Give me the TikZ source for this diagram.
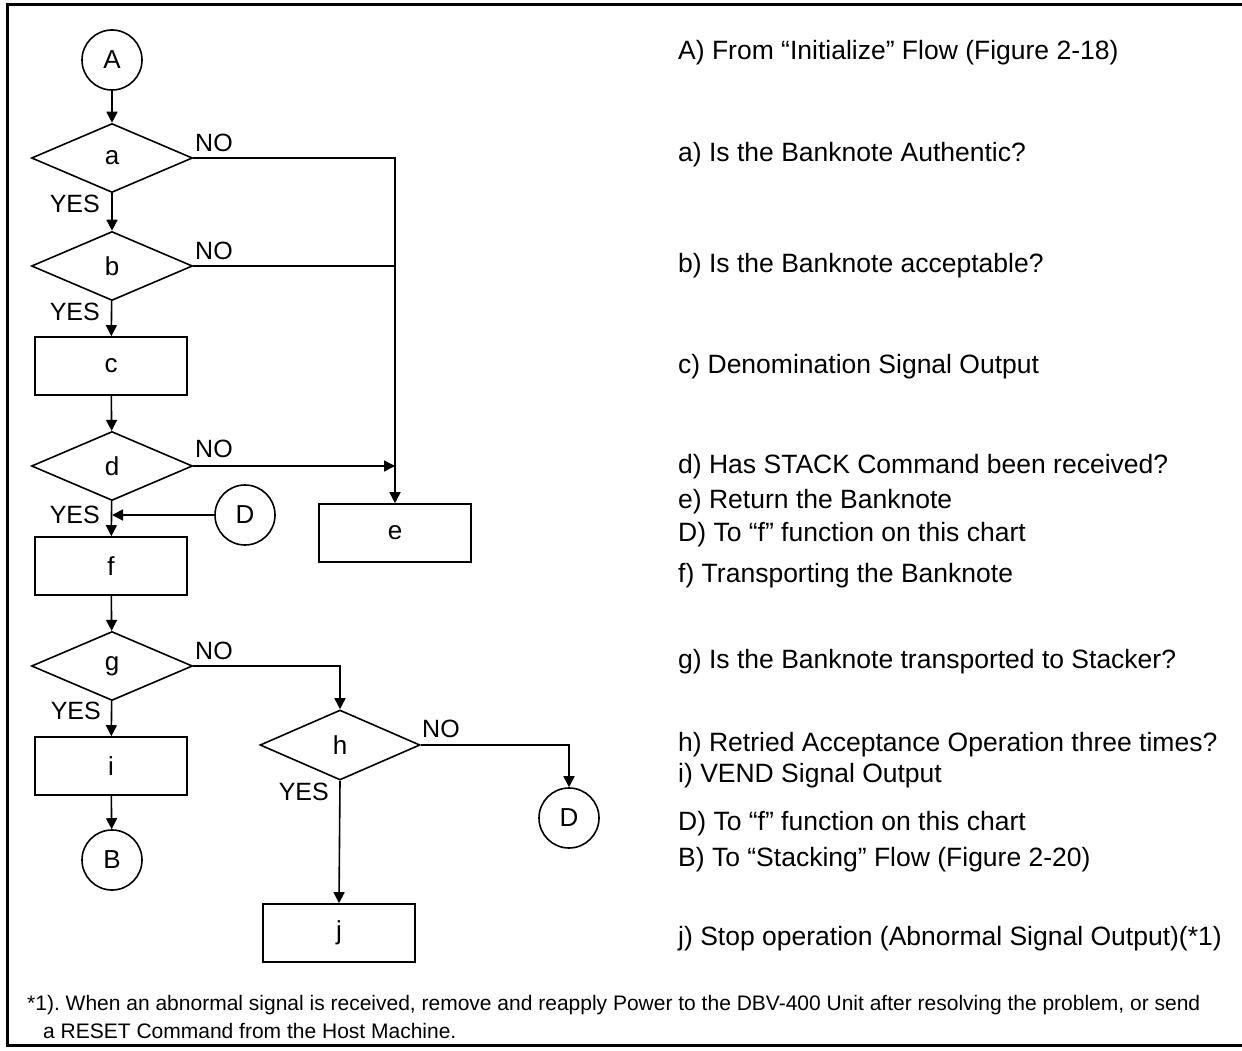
\documentclass[tikz,border=0pt]{standalone}
\usepackage{fontspec}
\setmainfont{Liberation Sans}
\usetikzlibrary{shapes.geometric,arrows.meta}
\frenchspacing
\begin{document}
\begin{tikzpicture}[x=1pt,y=-1pt,
  every node/.style={font=\fontsize{26}{30}\selectfont},
  ln/.style={line width=1.6pt},
  arr/.style={ln,-{Triangle[length=11pt,width=11pt]}},
  dec/.style={diamond,draw,line width=1.6pt,minimum width=161pt,minimum height=69pt,inner sep=0pt},
  proc/.style={rectangle,draw,line width=1.6pt,minimum width=152pt,minimum height=58pt,inner sep=0pt},
  conn/.style={circle,draw,line width=1.6pt,minimum size=60pt,inner sep=0pt},
  lbl/.style={font=\fontsize{25}{28}\selectfont,inner sep=0pt},
  desc/.style={anchor=base west,inner sep=0pt,font=\fontsize{26.5}{30}\selectfont},
  foot/.style={anchor=base west,inner sep=0pt,font=\fontsize{21}{24}\selectfont}]
\useasboundingbox (0,0) rectangle (1242,1051);
\draw[line width=3pt] (7,5) rectangle (1260,1045);

% shapes
\node[conn] (A) at (112,60) {A};
\node[dec] (a) at (112,158) {a};
\node[dec] (b) at (112,266) {b};
\node[proc] (c) at (111,366) {c};
\node[dec] (d) at (112,466) {d};
\node[proc] (e) at (395,533) {e};
\node[conn] (D1) at (245,515) {D};
\node[proc] (f) at (111,566) {f};
\node[dec] (g) at (112,666) {g};
\node[proc] (i) at (111,766) {i};
\node[conn] (B) at (112,860) {B};
\node[dec,minimum width=160pt,minimum height=70pt] (h) at (340,745) {h};
\node[conn] (D2) at (569,818) {D};
\node[proc] (j) at (339,933) {j};

% connectors
\draw[arr] (A) -- (a);
\draw[arr] (a) -- (b);
\draw[arr] (b) -- (c);
\draw[arr] (c) -- (d);
\draw[arr] (d) -- (f);
\draw[arr] (D1) -- (D1 -| d.south);
\draw[arr] (a.east) -- (a.east -| e.north) -- (e.north);
\draw[ln] (b.east) -- (b.east -| e.north);
\draw[arr] (d.east) -- (d.east -| e.north);
\draw[arr] (f) -- (g);
\draw[arr] (g) -- (i);
\draw[arr] (i) -- (B);
\draw[arr] (g.east) -- (g.east -| h.north) -- (h.north);
\draw[arr] (h.east) -- (h.east -| D2.north) -- (D2.north);
\draw[arr] (h.south) -- (j.north);

% NO / YES labels
\node[lbl,anchor=base west] (noa) at (195,152) {NO};
\node[lbl,anchor=base west] (nob) at (195,259) {NO};
\node[lbl,anchor=base west] (nod) at (195,457) {NO};
\node[lbl,anchor=base west] (nog) at (195,659) {NO};
\node[lbl,anchor=base west] (noh) at (422,737) {NO};
\node[lbl,anchor=base east] (yesa) at (100,213) {YES};
\node[lbl,anchor=base east] (yesb) at (100,320) {YES};
\node[lbl,anchor=base east] (yesd) at (100,523) {YES};
\node[lbl,anchor=base east] (yesg) at (101,719) {YES};
\node[lbl,anchor=base east] (yesh) at (329,800) {YES};

% descriptions
\node[desc] (tA) at (678,60) {A) From “Initialize” Flow (Figure 2-18)};
\node[desc] (ta) at (678,162) {a) Is the Banknote Authentic?};
\node[desc] (tb) at (678,272) {b) Is the Banknote acceptable?};
\node[desc] (tc) at (678,373) {c) Denomination Signal Output};
\node[desc] (td) at (678,473) {d) Has STACK Command been received?};
\node[desc] (te) at (678,508) {e) Return the Banknote};
\node[desc] (tD1) at (678,541) {D) To “f” function on this chart};
\node[desc] (tf) at (678,582) {f) Transporting the Banknote};
\node[desc] (tg) at (678,668) {g) Is the Banknote transported to Stacker?};
\node[desc] (th) at (678,751) {h) Retried Acceptance Operation three times?};
\node[desc] (ti) at (678,782) {i) VEND Signal Output};
\node[desc] (tD2) at (678,830) {D) To “f” function on this chart};
\node[desc] (tB) at (678,866) {B) To “Stacking” Flow (Figure 2-20)};
\node[desc] (tj) at (678,945) {j) Stop operation (Abnormal Signal Output)(*1)};

% footnote
\node[foot] (fn1) at (27,1010) {*1). When an abnormal signal is received, remove and reapply Power to the DBV-400 Unit after resolving the problem, or send};
\node[foot] (fn2) at (43,1038) {a RESET Command from the Host Machine.};
\end{tikzpicture}
\end{document}
